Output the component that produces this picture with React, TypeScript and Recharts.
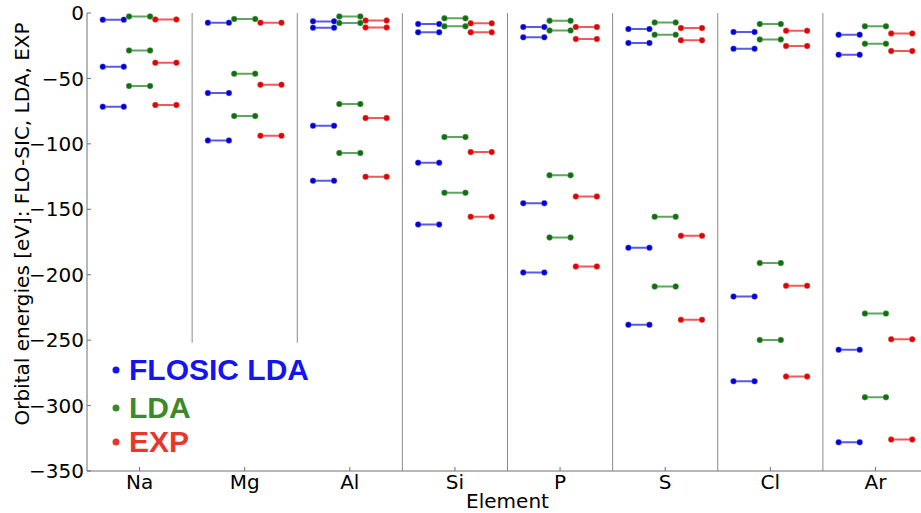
import React from 'react';
import { ComposedChart, Line, XAxis, YAxis, ReferenceLine, Legend } from 'recharts';

const ELEMENTS = ['Na', 'Mg', 'Al', 'Si', 'P', 'S', 'Cl', 'Ar'];

// orbital energies (eV) per element, shallow to deep
const flosicLevels = [
  [-5.1, -41, -71.6],
  [-7.4, -61.2, -97.4],
  [-6.4, -11.2, -86.2, -128.2],
  [-8.4, -14.8, -114.4, -161.6],
  [-10.7, -18.6, -145.3, -198.3],
  [-12.3, -22.9, -179.4, -238.3],
  [-14.5, -27.3, -216.7, -281.4],
  [-16.6, -31.9, -257.4, -328],
];

const ldaLevels = [
  [-2.6, -28.6, -55.8],
  [-4.6, -46.4, -78.7],
  [-2.6, -7.6, -69.6, -107],
  [-4.1, -10.2, -94.8, -137.4],
  [-5.9, -13.3, -123.9, -171.5],
  [-7.2, -16.6, -155.7, -209],
  [-8.4, -20.2, -191.1, -249.8],
  [-10.2, -23.5, -229.7, -293.6],
];

const expLevels = [
  [-4.9, -38, -70.3],
  [-7.4, -54.8, -93.8],
  [-5.7, -11, -80.3, -125.2],
  [-7.9, -14.8, -106.3, -155.7],
  [-10.7, -19.9, -140.2, -193.7],
  [-11.5, -20.9, -170.3, -234.5],
  [-13.5, -25.2, -208.5, -277.8],
  [-15.6, -29.1, -249.3, -326],
];

const Y_TICKS = [0, -50, -100, -150, -200, -250, -300, -350];
// lower end of the divider between neighbouring columns
const DIVIDER_BOTTOM = [-252, -252, -350, -350, -350, -350, -350];

const SERIES = [
  { name: 'FLOSIC LDA', levels: flosicLevels, offset: -0.25, color: '#0000dc', legendColor: '#1414f0' },
  { name: 'LDA', levels: ldaLevels, offset: 0, color: '#0c730c', legendColor: '#3a8a2a' },
  { name: 'EXP', levels: expLevels, offset: 0.25, color: '#e60000', legendColor: '#e8372b' },
];
const LEGEND_BASELINE = [30, 68, 102];
const HALF = 0.1;
const AXIS = '#707070';
const FONT = 'DejaVu Sans';

// each level is a short horizontal segment; a null point breaks the line
const buildSegments = (levels: number[][], offset: number) => {
  const pts: { x: number; y: number | null }[] = [];
  levels.forEach((lv, i) => {
    lv.forEach(v => {
      pts.push({ x: i + offset - HALF, y: v });
      pts.push({ x: i + offset + HALF, y: v });
      pts.push({ x: i + offset, y: null });
    });
  });
  return pts;
};

const renderLegend = () => (
  <svg width={240} height={120}>
    {SERIES.map((s, i) => (
      <g key={s.name}>
        <circle cx={12} cy={LEGEND_BASELINE[i] - 10} r={3.5} fill={s.legendColor} />
        <text
          x={25}
          y={LEGEND_BASELINE[i]}
          fill={s.legendColor}
          fontFamily="Liberation Sans, Arial, sans-serif"
          fontWeight="bold"
          fontSize={30}
        >
          {s.name}
        </text>
      </g>
    ))}
  </svg>
);

export default function App() {
  return (
    <div style={{ position: 'absolute', left: 0, top: 0, width: 921, height: 513, overflow: 'hidden', background: '#fff' }}>
      <ComposedChart width={928} height={513} margin={{ top: 13, right: 0, bottom: 0, left: 0 }}>
        <XAxis
          dataKey="x"
          type="number"
          domain={[-0.5, 7.5]}
          ticks={ELEMENTS.map((_, i) => i)}
          interval={0}
          tickFormatter={(i: number) => ELEMENTS[i]}
          height={42}
          tickSize={-4}
          tickMargin={8}
          axisLine={{ stroke: AXIS }}
          tickLine={{ stroke: AXIS }}
          tick={{ fontSize: 20, fill: '#000', fontFamily: FONT }}
          label={{ value: 'Element', position: 'insideBottom', offset: 5, fontSize: 20, fill: '#000', fontFamily: FONT }}
        />
        <XAxis
          xAxisId="top"
          orientation="top"
          type="number"
          domain={[-0.5, 7.5]}
          ticks={ELEMENTS.map((_, i) => i)}
          interval={0}
          height={0}
          tickSize={-4}
          tick={false}
          axisLine={{ stroke: AXIS }}
          tickLine={{ stroke: AXIS }}
        />
        <YAxis
          type="number"
          domain={[-350, 0]}
          ticks={Y_TICKS}
          interval={0}
          width={87}
          tickSize={-4}
          tickMargin={7}
          tickFormatter={(v: number) => (v < 0 ? '\u2212' + Math.abs(v) : String(v))}
          axisLine={{ stroke: AXIS }}
          tickLine={{ stroke: AXIS }}
          tick={{ fontSize: 20, fill: '#000', fontFamily: FONT }}
          label={{
            content: (props: any) => {
              const vb = props.viewBox || { y: 13, height: 458 };
              const cx = 29;
              const cy = vb.y + vb.height / 2 - 18;
              return (
                <text
                  x={cx}
                  y={cy}
                  transform={`rotate(-90, ${cx}, ${cy})`}
                  textAnchor="middle"
                  fontSize={20}
                  fontFamily={FONT}
                  fill="#000"
                >
                  Orbital energies [eV]: FLO-SIC, LDA, EXP
                </text>
              );
            },
          }}
        />
        {DIVIDER_BOTTOM.map((bottom, i) => (
          <ReferenceLine
            key={i}
            segment={[{ x: i + 0.5, y: bottom }, { x: i + 0.5, y: 0 }]}
            stroke="#8a8a8a"
            strokeWidth={1}
          />
        ))}
        {SERIES.map(s => (
          <Line
            key={s.name}
            name={s.name}
            data={buildSegments(s.levels, s.offset)}
            dataKey="y"
            type="linear"
            stroke={s.color}
            strokeOpacity={0.65}
            strokeWidth={2}
            dot={{ r: 3, fill: s.color, stroke: '#b8b8b8', strokeWidth: 0.6, fillOpacity: 1 }}
            activeDot={false}
            connectNulls={false}
            isAnimationActive={false}
          />
        ))}
        <Legend
          layout="vertical"
          align="center"
          verticalAlign="middle"
          content={renderLegend}
          wrapperStyle={{ position: 'absolute', left: 104, top: 350, width: 240, height: 120 }}
        />
      </ComposedChart>
    </div>
  );
}
